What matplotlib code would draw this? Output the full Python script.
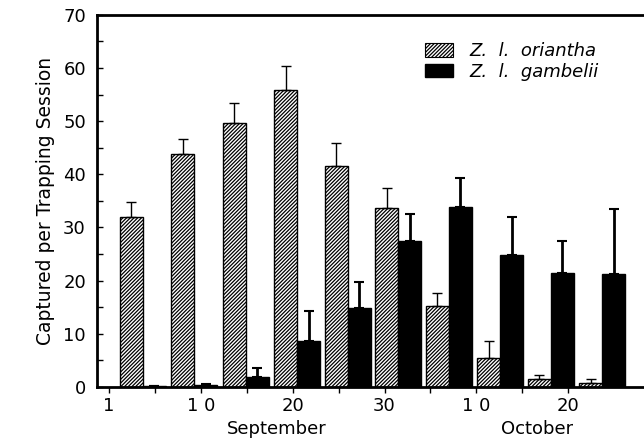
import matplotlib.pyplot as plt
from matplotlib.patches import Patch

# trapping sessions (mid-point, days after 31 Aug)
session_day = [3.7, 9.3, 14.9, 20.5, 26.0, 31.5, 37.0, 42.6, 48.1, 53.7]

oriantha = [31.9, 43.8, 49.6, 55.8, 41.6, 33.6, 15.2, 5.5, 1.6, 0.8]
oriantha_err = [2.9, 2.8, 3.8, 4.5, 4.2, 3.9, 2.5, 3.1, 0.7, 0.65]
gambelii = [0.1, 0.3, 1.9, 8.7, 14.8, 27.5, 33.8, 24.9, 21.5, 21.2]
gambelii_err = [0.0, 0.2, 1.6, 5.5, 5.0, 5.1, 5.5, 7.1, 6.0, 12.2]

tick_days = [0, 10, 20, 30, 40, 50]
tick_labels = ["1", "1 0", "20", "30", "1 0", "20"]
months = ["September", "October"]
month_days = [18.3, 46.6]

plt.rcParams['font.family'] = 'DejaVu Sans'
plt.rcParams['hatch.linewidth'] = 0.9

fig = plt.figure(figsize=(6.44, 4.41), dpi=100)
ax = fig.add_axes([0.1506, 0.1224, 0.8587, 0.8442])

w = 2.5
hatch = "/////////"
x_o = [d - w / 2 for d in session_day]
x_g = [d + w / 2 for d in session_day]

ax.bar(x_o, oriantha, w, color="white", edgecolor="black", linewidth=1.0, hatch=hatch, zorder=2)
ax.errorbar(x_o, oriantha, yerr=[[0] * len(oriantha), oriantha_err], fmt="none",
            ecolor="black", elinewidth=1.0, capsize=3.5, capthick=1.0, zorder=3)
ax.bar(x_g, gambelii, w, color="black", edgecolor="black", linewidth=1.0, zorder=2)
ax.errorbar(x_g, gambelii, yerr=[[0] * len(gambelii), gambelii_err], fmt="none",
            ecolor="black", elinewidth=2.0, capsize=3.5, capthick=1.5, zorder=3)

ax.set_xlim(-1.3, 58.9)
ax.set_ylim(0, 70)

# axis styling
for s in ax.spines.values():
    s.set_linewidth(2.0)
ax.spines['right'].set_visible(False)

ax.set_yticks(range(0, 71, 10))
ax.set_yticks(range(5, 71, 10), minor=True)
ax.tick_params(axis="y", which="both", direction="in", length=4, width=1, labelsize=13, pad=8)
ax.set_xticks(tick_days)
ax.set_xticklabels(tick_labels)
ax.set_xticks(range(5, 51, 10), minor=True)
ax.tick_params(axis="x", which="both", direction="out", length=4.5, width=1, labelsize=13, pad=3)

ax.set_ylabel("Captured per Trapping Session", fontsize=13.5, labelpad=6)

for m, d in zip(months, month_days):
    ax.text(d, -0.088, m, transform=ax.get_xaxis_transform(), ha="center", va="top", fontsize=13)

handles = [Patch(facecolor="white", edgecolor="black", hatch=hatch, linewidth=0.8),
           Patch(facecolor="black", edgecolor="black")]
ax.legend(handles, ["Z.  l.  oriantha", "Z.  l.  gambelii"], loc="upper left",
          bbox_to_anchor=(0.563, 0.97), frameon=False, handlelength=1.6, handleheight=0.8,
          handletextpad=0.9, labelspacing=0.15, prop={"style": "italic", "size": 13})

fig.savefig("out.png", dpi=100)
